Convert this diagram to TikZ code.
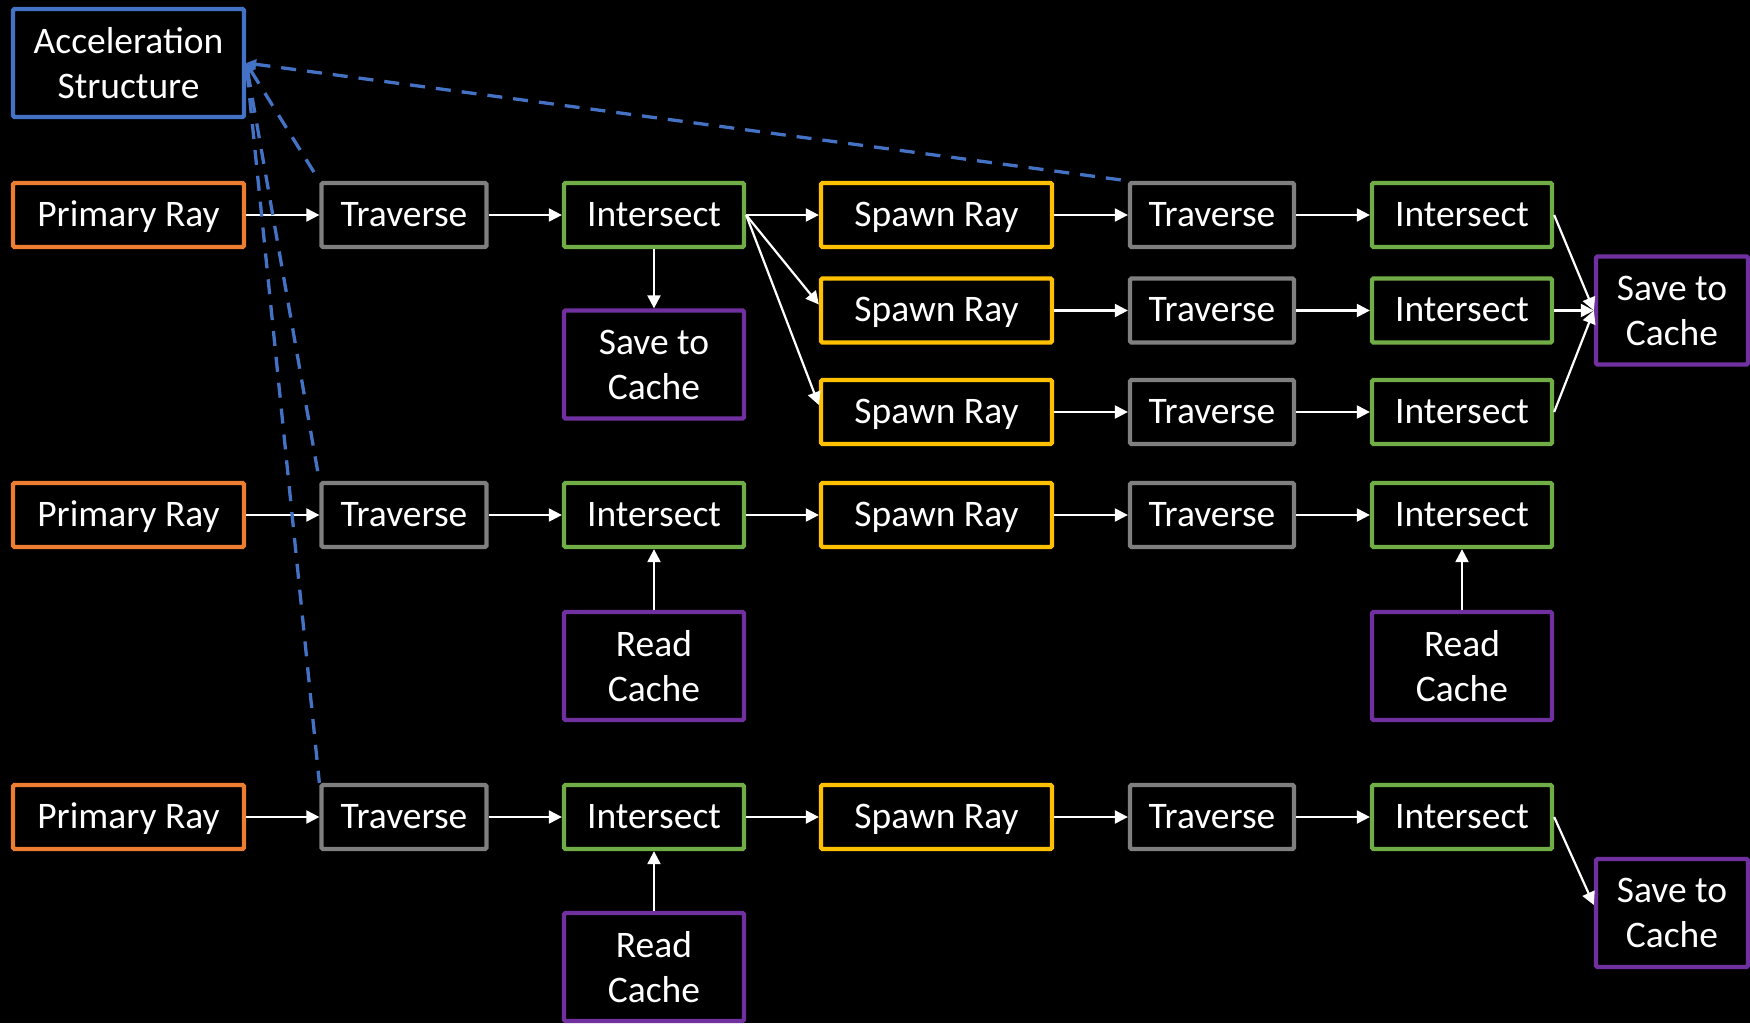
\documentclass[tikz,border=0pt]{standalone}
\usepackage{fontspec}
\setmainfont{Carlito}
\usetikzlibrary{arrows.meta,calc}
\definecolor{cOrange}{HTML}{ED7D31}
\definecolor{cGray}{HTML}{7F7F7F}
\definecolor{cGreen}{HTML}{70AD47}
\definecolor{cGold}{HTML}{FFC000}
\definecolor{cPurple}{HTML}{7030A0}
\definecolor{cBlue}{HTML}{4472C4}
\tikzset{
  box/.style={draw, line width=4.3pt, rounded corners=1.5pt, inner sep=0pt, fill=black,
    text=white, font=\fontsize{37.5}{45}\selectfont, align=center, minimum height=64pt},
  oneline/.style={box, text height=30pt, text depth=8pt},
  twoline/.style={box, minimum height=108pt},
  wA/.style={minimum width=231pt}, wB/.style={minimum width=165pt},
  wC/.style={minimum width=180pt}, wD/.style={minimum width=231pt},
  wE/.style={minimum width=164pt}, wF/.style={minimum width=180pt},
  wG/.style={minimum width=152pt},
  prim/.style={oneline, wA, draw=cOrange},
  trav/.style={oneline, draw=cGray},
  inter/.style={oneline, draw=cGreen},
  spawn/.style={oneline, wD, draw=cGold},
  cache/.style={twoline, draw=cPurple},
  flow/.style={draw=white, line width=2.2pt, -{Triangle[length=13pt,width=13pt]}},
  accl/.style={draw=cBlue, line width=3.3pt, dash pattern=on 15pt off 11pt,
    {Triangle[length=10pt,width=10pt]}-},
}
\begin{document}
\begin{tikzpicture}[x=1pt,y=-1pt]
\fill[black] (0,0) rectangle (1750,1023);
\useasboundingbox (0,0) rectangle (1750,1023);
\clip (0,0) rectangle (1750,1023);
% nodes
\node[twoline, wA, draw=cBlue] (acc) at (128.5,63) {Acceleration\\Structure};
% row 1
\node[prim] (pr1) at (128.5,215) {Primary Ray};
\node[trav, wB] (tr1) at (404,215) {Traverse};
\node[inter, wC] (in1) at (654,215) {Intersect};
\node[spawn] (sp1) at (936.5,215) {Spawn Ray};
\node[trav, wE] (te1) at (1212,215) {Traverse};
\node[inter, wF] (if1) at (1462,215) {Intersect};
\node[spawn] (sp2) at (936.5,310.5) {Spawn Ray};
\node[trav, wE] (te2) at (1212,310.5) {Traverse};
\node[inter, wF] (if2) at (1462,310.5) {Intersect};
\node[spawn] (sp3) at (936.5,412) {Spawn Ray};
\node[trav, wE] (te3) at (1212,412) {Traverse};
\node[inter, wF] (if3) at (1462,412) {Intersect};
\node[cache, wC] (sv1) at (654,364.5) {Save to\\Cache};
\node[cache, wG] (svR) at (1672,310.5) {Save to\\Cache};
% row 2
\node[prim] (pr2) at (128.5,515) {Primary Ray};
\node[trav, wB] (tr2) at (404,515) {Traverse};
\node[inter, wC] (in2) at (654,515) {Intersect};
\node[spawn] (sp4) at (936.5,515) {Spawn Ray};
\node[trav, wE] (te4) at (1212,515) {Traverse};
\node[inter, wF] (if4) at (1462,515) {Intersect};
\node[cache, wC] (rd1) at (654,666) {Read\\Cache};
\node[cache, wF] (rd2) at (1462,666) {Read\\Cache};
% row 3
\node[prim] (pr3) at (128.5,817) {Primary Ray};
\node[trav, wB] (tr3) at (404,817) {Traverse};
\node[inter, wC] (in3) at (654,817) {Intersect};
\node[spawn] (sp5) at (936.5,817) {Spawn Ray};
\node[trav, wE] (te5) at (1212,817) {Traverse};
\node[inter, wF] (if5) at (1462,817) {Intersect};
\node[cache, wC] (rd3) at (654,967) {Read\\Cache};
\node[cache, wG] (sv3) at (1672,913) {Save to\\Cache};
% flow arrows
\draw[flow] (pr1) -- (tr1);
\draw[flow] (tr1) -- (in1);
\draw[flow] (in1) -- (sp1);
\draw[flow] (sp1) -- (te1);
\draw[flow] (te1) -- (if1);
\draw[flow] (in1.east) -- ([yshift=6pt]sp2.west);
\draw[flow] (in1.east) -- ([yshift=7pt]sp3.west);
\draw[flow] (sp2) -- (te2);
\draw[flow] (te2) -- (if2);
\draw[flow] (sp3) -- (te3);
\draw[flow] (te3) -- (if3);
\draw[flow] (in1) -- (sv1);
\draw[flow] (if1.east) -- (svR.west);
\draw[flow] (if2.east) -- (svR.west);
\draw[flow] (if3.east) -- (svR.west);
\draw[flow] (pr2) -- (tr2);
\draw[flow] (tr2) -- (in2);
\draw[flow] (in2) -- (sp4);
\draw[flow] (sp4) -- (te4);
\draw[flow] (te4) -- (if4);
\draw[flow] (rd1) -- (in2);
\draw[flow] (rd2) -- (if4);
\draw[flow] (pr3) -- (tr3);
\draw[flow] (tr3) -- (in3);
\draw[flow] (in3) -- (sp5);
\draw[flow] (sp5) -- (te5);
\draw[flow] (te5) -- (if5);
\draw[flow] (rd3) -- (in3);
\draw[flow] (if5.east) -- ([yshift=8pt]sv3.west);
% acceleration structure links
\draw[accl] (acc.east) -- (te1.north west);
\draw[accl] (acc.east) -- (tr1.north west);
\draw[accl] (acc.east) -- (tr2.north west);
\draw[accl] (acc.east) -- (tr3.north west);
\end{tikzpicture}
\end{document}
